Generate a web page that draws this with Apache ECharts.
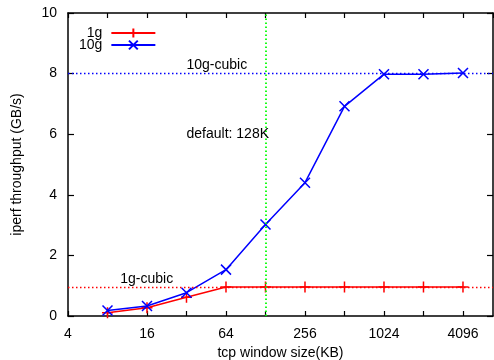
<!DOCTYPE html>
<html>
<head>
<meta charset="utf-8">
<script src="https://cdn.jsdelivr.net/npm/echarts@6/dist/echarts.min.js"></script>
<style>
  html, body { margin: 0; padding: 0; background: #fff; }
  #chart { width: 494px; height: 360px; }
</style>
</head>
<body>
<div id="chart"></div>
<script>
// window sizes in KB
const windowSizes = [8, 16, 32, 64, 128, 256, 512, 1024, 2048, 4096]
const tput1g = [0.11, 0.27, 0.62, 0.96, 0.96, 0.96, 0.96, 0.96, 0.96, 0.96]
const tput10g = [0.18, 0.33, 0.77, 1.53, 3.02, 4.4, 6.92, 7.98, 7.98, 8.02]
const cubic1g = 0.96
const cubic10g = 8.0
const defaultWindow = 128

const font = 'Liberation Sans, Arial, sans-serif'
const plusPath = 'path://M0,5L10,5M5,0L5,10'
const crossPath = 'path://M0,0L10,10M10,0L0,10'

function pairs (ys) {
  return windowSizes.map((x, i) => [x, ys[i]])
}

function isEvenPow (v) {
  return Math.round(Math.log2(v)) % 2 === 0
}

const xBase = {
  type: 'log',
  logBase: 2,
  min: 4,
  max: Math.pow(2, 12.76),
  interval: 1,
  axisLine: { show: true, onZero: false, lineStyle: { color: '#000', width: 1.5 } },
  axisTick: { show: true, inside: true, length: 5, lineStyle: { color: '#000', width: 1.2 } },
  splitLine: { show: false },
  minorTick: { show: false }
}

const dotted = (color, w) => ({ color: color, type: [1.5, 2.5], width: w || 1.3 })

const chart = echarts.init(document.getElementById('chart'))
chart.setOption({
  animation: false,
  textStyle: { fontFamily: font },
  grid: { left: 68, right: 1, top: 13, bottom: 44, containLabel: false, outerBoundsMode: 'none' },
  legend: {
    orient: 'vertical',
    left: 74,
    top: 21,
    itemGap: -2,
    itemWidth: 44,
    itemHeight: 11,
    align: 'right',
    textStyle: { fontSize: 14, color: '#000', width: 26, align: 'right', padding: [0, 4, 0, 0], fontFamily: font },
    data: ['1g', '10g']
  },
  xAxis: [
    Object.assign({}, xBase, {
      position: 'bottom',
      name: 'tcp window size(KB)',
      nameLocation: 'middle',
      nameGap: 26,
      nameTextStyle: { fontSize: 14, color: '#000', fontFamily: font },
      axisLabel: {
        fontSize: 14,
        color: '#000',
        margin: 11,
        fontFamily: font,
        showMaxLabel: false,
        formatter: (v) => isEvenPow(v) ? String(Math.round(v)) : ''
      }
    }),
    Object.assign({}, xBase, {
      position: 'top',
      axisLabel: { show: false }
    })
  ],
  yAxis: [
    {
      type: 'value',
      min: 0,
      max: 10,
      interval: 2,
      name: 'iperf throughput (GB/s)',
      nameLocation: 'middle',
      nameGap: 44,
      nameTextStyle: { fontSize: 14, color: '#000', fontFamily: font },
      axisLine: { show: true, lineStyle: { color: '#000', width: 1.5 } },
      axisTick: { show: true, inside: true, length: 6, lineStyle: { color: '#000', width: 1.2 } },
      axisLabel: { fontSize: 14, color: '#000', margin: 11, fontFamily: font },
      splitLine: { show: false }
    },
    {
      type: 'value',
      min: 0,
      max: 10,
      interval: 2,
      position: 'right',
      axisLine: { show: true, lineStyle: { color: '#000', width: 1.5 } },
      axisTick: { show: true, inside: true, length: 6, lineStyle: { color: '#000', width: 1.2 } },
      axisLabel: { show: false },
      splitLine: { show: false }
    }
  ],
  series: [
    {
      name: '1g',
      type: 'line',
      data: pairs(tput1g),
      symbol: plusPath,
      symbolSize: 11,
      itemStyle: { color: 'none', borderColor: '#ff0000', borderWidth: 1.5 },
      lineStyle: { color: '#ff0000', width: 1.5 },
      markLine: {
        silent: true,
        symbol: 'none',
        label: { show: false },
        lineStyle: dotted('#ff0000'),
        data: [{ yAxis: cubic1g, lineStyle: dotted('#ff0000') }]
      },
      markPoint: {
        symbol: 'circle',
        symbolSize: 0,
        label: { show: true, position: 'right', distance: 0, fontSize: 14, color: '#000', fontFamily: font },
        data: [{ coord: [10, 1.2], value: '1g-cubic' }]
      },
      z: 3
    },
    {
      name: '10g',
      type: 'line',
      data: pairs(tput10g),
      symbol: crossPath,
      symbolSize: 10,
      itemStyle: { color: 'none', borderColor: '#0000ff', borderWidth: 1.5 },
      lineStyle: { color: '#0000ff', width: 1.5 },
      markLine: {
        silent: true,
        symbol: 'none',
        label: { show: false },
        data: [
          { yAxis: cubic10g, lineStyle: dotted('#0000ff') },
          { xAxis: defaultWindow, lineStyle: dotted('#00ff00', 1.8) }
        ]
      },
      markPoint: {
        symbol: 'circle',
        symbolSize: 0,
        label: { show: true, position: 'right', distance: 0, fontSize: 14, color: '#000', fontFamily: font },
        data: [
          { coord: [32, 8.28], value: '10g-cubic' },
          { coord: [32, 6.0], value: 'default: 128K' }
        ]
      },
      z: 4
    }
  ]
})
</script>
</body>
</html>
